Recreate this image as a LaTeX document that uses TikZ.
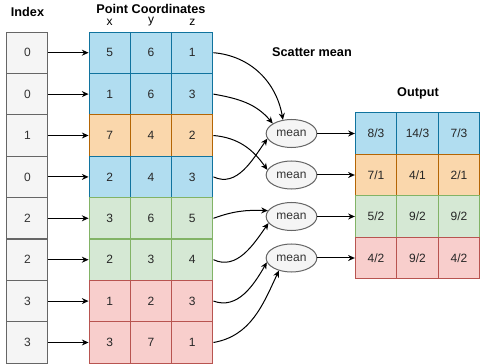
\documentclass[tikz,border=0pt]{standalone}
\usepackage{fontspec}
\setmainfont{Liberation Sans}
\usetikzlibrary{arrows.meta,shapes.geometric}
\definecolor{idxfill}{HTML}{F5F5F5}
\definecolor{idxline}{HTML}{666666}
\definecolor{txtgray}{HTML}{333333}
\definecolor{bluefill}{HTML}{B1DDF0}
\definecolor{blueline}{HTML}{10739E}
\definecolor{orfill}{HTML}{FAD7AC}
\definecolor{orline}{HTML}{B46504}
\definecolor{grfill}{HTML}{D5E8D4}
\definecolor{grline}{HTML}{82B366}
\definecolor{rdfill}{HTML}{F8CECC}
\definecolor{rdline}{HTML}{B85450}

\begin{document}
\begin{tikzpicture}[
    x=.75pt,y=-.75pt,
    font=\fontsize{9}{11}\selectfont,
    idx/.style={rectangle,draw=idxline,fill=idxfill,text=txtgray,minimum width=30.75pt,minimum height=31pt,inner sep=0pt,line width=.75pt},
    cell/.style={rectangle,minimum width=31pt,minimum height=31pt,inner sep=0pt,line width=.75pt,text=black!85},
    bl/.style={cell,draw=blueline,fill=bluefill},
    og/.style={cell,draw=orline,fill=orfill},
    gr/.style={cell,draw=grline,fill=grfill},
    rd/.style={cell,draw=rdline,fill=rdfill},
    mn/.style={ellipse,draw=idxline,fill=idxfill,text=txtgray,minimum width=38pt,minimum height=21pt,inner sep=0pt,line width=.75pt},
    ttl/.style={font=\fontsize{9.5}{11}\selectfont\bfseries,inner sep=1pt},
    ax/.style={inner sep=0pt},
    e/.style={-{Stealth[length=5pt,width=4.5pt]},line width=.75pt,black}
  ]
    \useasboundingbox (0,0) rectangle (480,364);
    % headings
    \node[ttl] (hidx) at (27.5,11.5) {Index};
    \node[ttl] (hpts) at (151,9) {Point Coordinates};
    \node[ax] (hx) at (109.7,22) {x};
    \node[ax] (hy) at (151,22) {y};
    \node[ax] (hz) at (192.3,22) {z};
    \node[ttl] (hsc) at (312,52) {Scatter mean};
    \node[ttl] (hout) at (418,93) {Output};
    % index and point rows
    \node[idx] (i1) at (27.5,52.7) {0}; \node[bl] (p1x) at (109.7,52.7) {5}; \node[bl] (p1y) at (151,52.7) {6}; \node[bl] (p1z) at (192.3,52.7) {1};
    \node[idx] (i2) at (27.5,94.1) {0}; \node[bl] (p2x) at (109.7,94.1) {1}; \node[bl] (p2y) at (151,94.1) {6}; \node[bl] (p2z) at (192.3,94.1) {3};
    \node[idx] (i3) at (27.5,135.5) {1}; \node[og] (p3x) at (109.7,135.5) {7}; \node[og] (p3y) at (151,135.5) {4}; \node[og] (p3z) at (192.3,135.5) {2};
    \node[idx] (i4) at (27.5,176.9) {0}; \node[bl] (p4x) at (109.7,176.9) {2}; \node[bl] (p4y) at (151,176.9) {4}; \node[bl] (p4z) at (192.3,176.9) {3};
    \node[idx] (i5) at (27.5,218.3) {2}; \node[gr] (p5x) at (109.7,218.3) {3}; \node[gr] (p5y) at (151,218.3) {6}; \node[gr] (p5z) at (192.3,218.3) {5};
    \node[idx] (i6) at (27.5,259.7) {2}; \node[gr] (p6x) at (109.7,259.7) {2}; \node[gr] (p6y) at (151,259.7) {3}; \node[gr] (p6z) at (192.3,259.7) {4};
    \node[idx] (i7) at (27.5,301.1) {3}; \node[rd] (p7x) at (109.7,301.1) {1}; \node[rd] (p7y) at (151,301.1) {2}; \node[rd] (p7z) at (192.3,301.1) {3};
    \node[idx] (i8) at (27.5,342.5) {3}; \node[rd] (p8x) at (109.7,342.5) {3}; \node[rd] (p8y) at (151,342.5) {7}; \node[rd] (p8z) at (192.3,342.5) {1};
    % means and output rows
    \node[mn] (m1) at (291.5,133.5) {mean}; \node[bl] (o1x) at (376,133.5) {8/3}; \node[bl] (o1y) at (417.5,133.5) {14/3}; \node[bl] (o1z) at (459,133.5) {7/3};
    \node[mn] (m2) at (291.5,175) {mean}; \node[og] (o2x) at (376,175) {7/1}; \node[og] (o2y) at (417.5,175) {4/1}; \node[og] (o2z) at (459,175) {2/1};
    \node[mn] (m3) at (291.5,216.5) {mean}; \node[gr] (o3x) at (376,216.5) {5/2}; \node[gr] (o3y) at (417.5,216.5) {9/2}; \node[gr] (o3z) at (459,216.5) {9/2};
    \node[mn] (m4) at (291.5,258) {mean}; \node[rd] (o4x) at (376,258) {4/2}; \node[rd] (o4y) at (417.5,258) {9/2}; \node[rd] (o4z) at (459,258) {4/2};
    % arrows
    \draw[e] (i1)--(p1x); \draw[e] (i2)--(p2x); \draw[e] (i3)--(p3x); \draw[e] (i4)--(p4x);
    \draw[e] (i5)--(p5x); \draw[e] (i6)--(p6x); \draw[e] (i7)--(p7x); \draw[e] (i8)--(p8x);
    \draw[e] (p1z.east) to[out=-5,in=100] (m1.122);
    \draw[e] (p2z.east) to[out=-10,in=130] (m1.152);
    \draw[e] (p3z.east) to[out=-5,in=125] (m2.168);
    \draw[e] (p4z.east) to[out=-25,in=-125] (m1.192);
    \draw[e] (p5z.east) to[out=20,in=178] (m3.166);
    \draw[e] (p6z.east) to[out=-25,in=-125] (m3.196);
    \draw[e] (p7z.east) to[out=-20,in=-120] (m4.190);
    \draw[e] (p8z.east) to[out=10,in=-115] (m4.225);
    \draw[e] (m1)--(o1x); \draw[e] (m2)--(o2x); \draw[e] (m3)--(o3x); \draw[e] (m4)--(o4x);
  \end{tikzpicture}
\end{document}
